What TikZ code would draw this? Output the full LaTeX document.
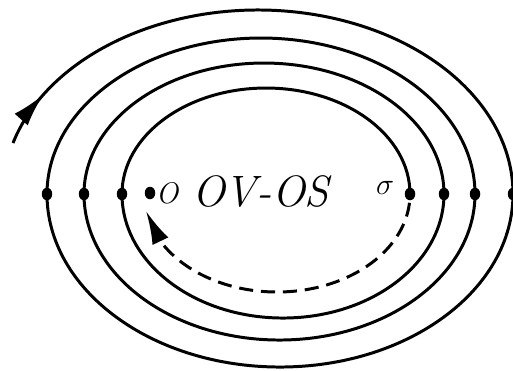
\documentclass[tikz,border=0pt]{standalone}
\usepackage{tikz}
\usetikzlibrary{arrows.meta,bending,decorations.markings,shapes.geometric}

\begin{document}
\begin{tikzpicture}[x=0.02cm, y=0.02cm, line width=1.7pt,
  >={Latex[length=19pt,width=10pt]},
  punto/.style={ellipse, fill, inner sep=0pt, minimum width=0.21cm, minimum height=0.25cm},
  etic/.style={font=\fontsize{17}{20}\selectfont\itshape, inner sep=0pt}]
\useasboundingbox (0,0) rectangle (513,370);
% punti sull'asse
\node[punto] (l3) at (47,176)  {};
\node[punto] (l2) at (84,176)  {};
\node[punto] (l1) at (122,176) {};
\node[punto] (o)  at (150,177) {};
\node[punto] (s)  at (410,176) {};
\node[punto] (r1) at (444,176) {};
\node[punto] (r2) at (475,176) {};
\node[punto] (r3) at (513,176) {};
\node[etic] (lo) at (167,177) {O};
\node[etic, font=\fontsize{19}{22}\selectfont] (ls) at (385,182) {$\sigma$};
\node[font=\fontsize{25}{30}\selectfont\itshape] (titolo) at (261,179) {OV-OS};
\coordinate (inizio) at (13,227);
% spirale verso sigma
\draw[postaction={decorate}, decoration={markings, mark=at position 1.15cm with {\arrow{>}}}]
  (inizio) arc[start angle=163.9, end angle=0, x radius=255, y radius=184]
  arc[start angle=0, end angle=-180, x radius=233, y radius=173]
  arc[start angle=180, end angle=0, x radius=214, y radius=156]
  arc[start angle=0, end angle=-180, x radius=195.5, y radius=146]
  arc[start angle=180, end angle=0, x radius=180, y radius=131]
  arc[start angle=0, end angle=-180, x radius=161, y radius=124]
  arc[start angle=180, end angle=0, x radius=144, y radius=106];
% salto da sigma a O
\draw[->, dash pattern=on 8pt off 4.5pt, dash phase=-5pt] (s.center) arc[start angle=0, end angle=-170, x radius=133, y radius=98];
\end{tikzpicture}
\end{document}
